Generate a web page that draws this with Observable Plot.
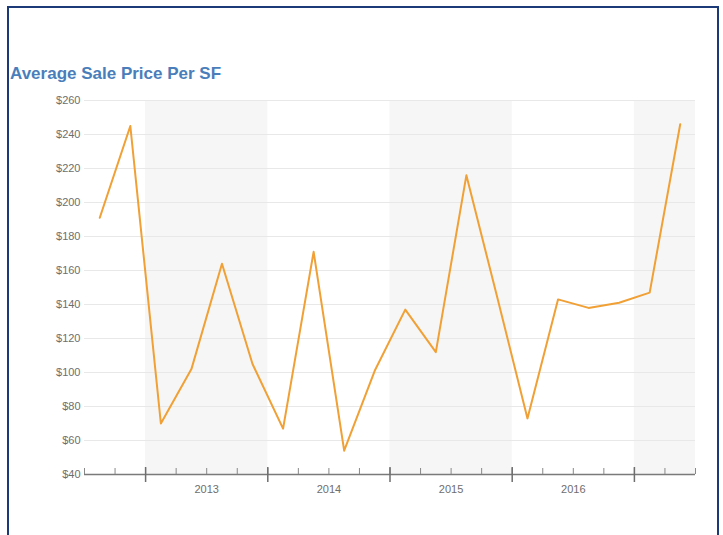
<!DOCTYPE html>
<html>
<head>
<meta charset="utf-8">
<script src="https://cdn.jsdelivr.net/npm/d3@7"></script>
<script src="https://cdn.jsdelivr.net/npm/@observablehq/plot@0.6"></script>
<style>
  html, body { margin: 0; padding: 0; background: #fff; width: 723px; height: 535px; overflow: hidden; }
  #frame { position: absolute; left: 7px; top: 6px; width: 712px; height: 600px; border: 2px solid #1c3a78; border-bottom: none; box-sizing: border-box; }
  #title { position: absolute; left: 10px; top: 64px; font-family: "Liberation Sans", Arial, sans-serif; font-weight: bold; font-size: 17px; color: #4a7ebb; white-space: nowrap; }
  #chart { position: absolute; left: 0; top: 0; }
</style>
</head>
<body>
<div id="frame"></div>
<div id="chart"></div>
<div id="title">Average Sale Price Per SF</div>
<script>
const quarters = ["2012 Q3","2012 Q4","2013 Q1","2013 Q2","2013 Q3","2013 Q4","2014 Q1","2014 Q2","2014 Q3","2014 Q4",
                  "2015 Q1","2015 Q2","2015 Q3","2015 Q4","2016 Q1","2016 Q2","2016 Q3","2016 Q4","2017 Q1","2017 Q2"];
const prices = [191, 245, 70, 102, 164, 105, 67, 171, 54, 101, 137, 112, 216, 145, 73, 143, 138, 141, 147, 246];
const yTicks = [40, 60, 80, 100, 120, 140, 160, 180, 200, 220, 240, 260];
const yearLabels = ["2013", "2014", "2015", "2016"];
const shadedYears = [2013, 2015, 2017];
const majorYears = [2013, 2014, 2015, 2016, 2017];

const qPos = s => { const [y, q] = s.split(" Q"); return +y + (+q - 1) / 4; };
const data = quarters.map((q, i) => ({ t: qPos(q) + 0.125, price: prices[i] }));
const xStart = qPos(quarters[0]);
const xEnd = qPos(quarters[quarters.length - 1]) + 0.25;
const quarterTicks = d3.range(quarters.length + 1).map(i => xStart + i * 0.25);
const bands = shadedYears.map(y => ({ x1: y, x2: Math.min(y + 1, xEnd) }));

const font = '"Liberation Sans", Arial, sans-serif';
const chart = Plot.plot({
  width: 723,
  height: 535,
  marginLeft: 84,
  marginRight: 28,
  marginTop: 100,
  marginBottom: 61,
  style: { fontFamily: font, background: "transparent", overflow: "visible" },
  x: { domain: [xStart, xEnd], label: null },
  y: { domain: [40, 260], label: null },
  marks: [
    Plot.rect(bands, { x1: "x1", x2: "x2", y1: 40, y2: 260, fill: "#f6f6f6" }),
    Plot.ruleY(yTicks.filter(d => d > 40), { stroke: "#e8e8e8", strokeWidth: 1 }),
    Plot.axisY({ ticks: yTicks, tickSize: 0, tickPadding: 4, tickFormat: d => "$" + d, fontSize: 11, color: "#6e6e6e", label: null }),
    Plot.ruleY([40], { stroke: "#7a7a7a", strokeWidth: 1.3 }),
    Plot.ruleX(quarterTicks, { y1: 40, y2: 40, insetTop: -6, stroke: "#888", strokeWidth: 1 }),
    Plot.ruleX(majorYears, { y1: 40, y2: 40, insetTop: -7, insetBottom: -8, stroke: "#6e6e6e", strokeWidth: 1.5 }),
    Plot.axisX({ ticks: yearLabels.map(y => +y + 0.5), tickSize: 0, tickPadding: 11, tickFormat: d => String(Math.floor(d)), fontSize: 11, color: "#6e6e6e", label: null }),
    Plot.line(data, { x: "t", y: "price", stroke: "#f0a035", strokeWidth: 2 })
  ]
});
document.getElementById("chart").appendChild(chart);
</script>
</body>
</html>
